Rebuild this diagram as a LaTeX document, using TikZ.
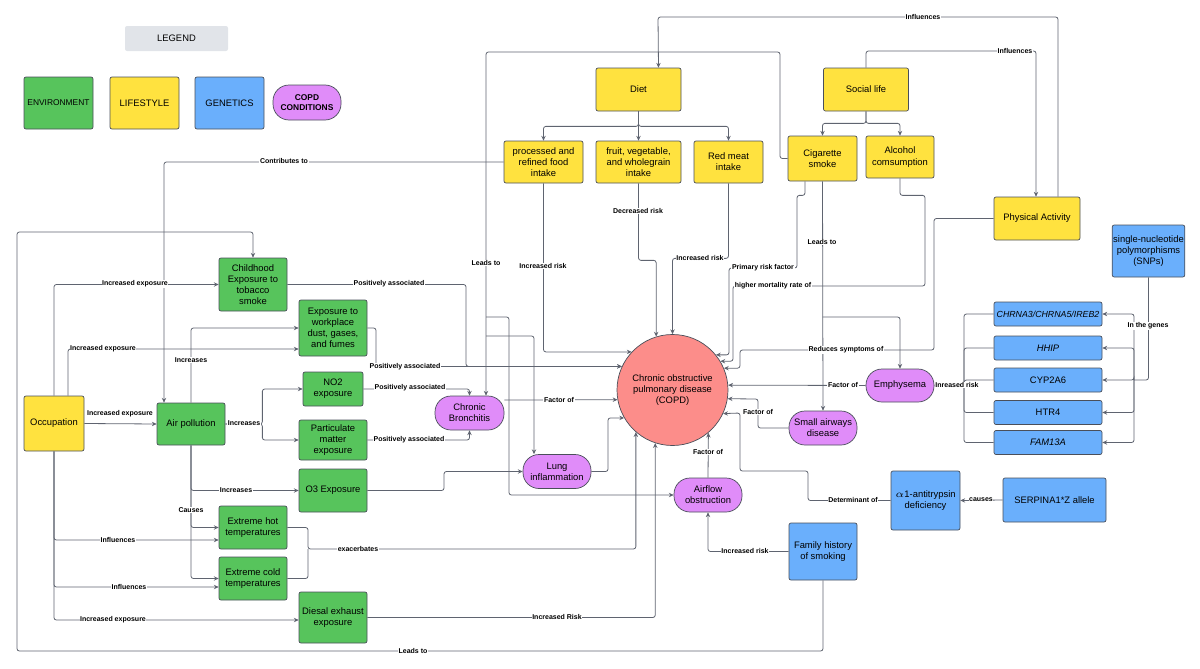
\documentclass[tikz,border=0pt]{standalone}
\usepackage{fontspec}
\setmainfont{Liberation Sans}
\usepackage{xcolor}
\usepackage{tikz}
\usetikzlibrary{positioning,calc,arrows.meta}
\definecolor{envgreen}{HTML}{57C45C}
\definecolor{lifeyellow}{HTML}{FFE23F}
\definecolor{geneblue}{HTML}{6AAFFC}
\definecolor{condpurple}{HTML}{E08CF9}
\definecolor{copdred}{HTML}{FC8D8A}
\definecolor{legendgray}{HTML}{E1E4E9}
\definecolor{linegray}{HTML}{5F6470}
\definecolor{bordergray}{HTML}{4A4F5A}
\tikzset{
  figfont/.style={font=\fontsize{4.7}{5.6}\selectfont},
  figbox/.style={draw=bordergray, line width=0.35pt, rounded corners=1pt, align=center, inner sep=0.5pt},
  envbox/.style={figbox, fill=envgreen},
  lifebox/.style={figbox, fill=lifeyellow},
  genebox/.style={figbox, fill=geneblue},
  condbox/.style={figbox, fill=condpurple, rounded corners=8pt},
  link/.style={-{Stealth[length=2.4pt,width=2.2pt]}, draw=linegray, line width=0.4pt, rounded corners=1.2pt},
  linkplain/.style={draw=linegray, line width=0.4pt, rounded corners=1.2pt},
  lbl/.style={font=\fontsize{3.5}{4}\selectfont\bfseries, fill=white, inner sep=0.3pt},
}
\begin{document}
\begin{tikzpicture}[x=0.5pt, y=-0.5pt, figfont]
\useasboundingbox (0,0) rectangle (1200,669);

% Legend
\node[fill=legendgray, rounded corners=1pt, minimum width=51.5pt, minimum height=12.5pt] (legend) at (176.5,38.5) {LEGEND};
\node[envbox, minimum width=34.5pt, minimum height=26pt, font=\fontsize{4.2}{5}\selectfont] (lenv) at (58.5,103) {ENVIRONMENT};
\node[lifebox, minimum width=34.5pt, minimum height=26pt] (llife) at (144.5,103) {LIFESTYLE};
\node[genebox, minimum width=34.5pt, minimum height=26pt] (lgene) at (229.5,103) {GENETICS};
\node[condbox, minimum width=34pt, minimum height=17.5pt, font=\fontsize{4.2}{5}\selectfont\bfseries] (lcond) at (307,102.5) {COPD\\CONDITIONS};

% Lifestyle
\node[lifebox, minimum width=42.5pt, minimum height=21.5pt] (diet) at (638.5,89.5) {Diet};
\node[lifebox, minimum width=42.5pt, minimum height=21.5pt] (social) at (866,89.5) {Social life};
\node[lifebox, minimum width=39.5pt, minimum height=21pt] (proc) at (543.5,162) {processed and\\refined food\\intake};
\node[lifebox, minimum width=42.5pt, minimum height=21pt] (fruit) at (638.5,162) {fruit, vegetable,\\and wholegrain\\intake};
\node[lifebox, minimum width=34.5pt, minimum height=21pt] (redmeat) at (728.5,162) {Red meat\\intake};
\node[lifebox, minimum width=34.5pt, minimum height=22.5pt] (cig) at (822.5,158.5) {Cigarette\\smoke};
\node[lifebox, minimum width=34pt, minimum height=21pt] (alcohol) at (900,157) {Alcohol\\comsumption};
\node[lifebox, minimum width=43pt, minimum height=21.5pt] (physact) at (1037,218.5) {Physical Activity};
\node[lifebox, minimum width=30pt, minimum height=27.5pt] (occ) at (54,423.5) {Occupation};

% Genetics
\node[genebox, minimum width=34.5pt, minimum height=26pt] (snp) at (1148.5,251) {single-nucleotide\\polymorphisms\\(SNPs)};
\node[genebox, minimum width=54pt, minimum height=12pt, font=\fontsize{4.4}{5}\selectfont] (chrna) at (1048,314) {\itshape CHRNA3/CHRNA5/IREB2};
\node[genebox, minimum width=54pt, minimum height=12pt] (hhip) at (1048,348) {\itshape HHIP};
\node[genebox, minimum width=54pt, minimum height=12pt] (cyp) at (1048,380) {CYP2A6};
\node[genebox, minimum width=54pt, minimum height=12pt] (htr) at (1048,412.5) {HTR4};
\node[genebox, minimum width=54pt, minimum height=12pt] (fam) at (1048,442.5) {\itshape FAM13A};
\node[genebox, minimum width=34.5pt, minimum height=29.5pt] (alpha) at (925.5,500.5) {$\alpha$1-antitrypsin\\deficiency};
\node[genebox, minimum width=51.5pt, minimum height=22pt] (serp) at (1054.5,500) {SERPINA1*Z allele};
\node[genebox, minimum width=34pt, minimum height=28.5pt] (fh) at (823,551.5) {Family history\\of smoking};

% COPD and conditions
\node[circle, draw=bordergray, line width=0.35pt, fill=copdred, minimum size=55.5pt, align=center, inner sep=0pt] (copd) at (672.5,390) {Chronic obstructive\\pulmonary disease\\(COPD)};
\node[condbox, minimum width=34pt, minimum height=16.5pt] (emph) at (900,385.5) {Emphysema};
\node[condbox, minimum width=34pt, minimum height=17pt] (small) at (823,428) {Small airways\\disease};
\node[condbox, minimum width=34.5pt, minimum height=17pt] (cb) at (469.5,413) {Chronic\\Bronchitis};
\node[condbox, minimum width=34pt, minimum height=17pt] (li) at (557,471.5) {Lung\\inflammation};
\node[condbox, minimum width=34pt, minimum height=17pt] (ao) at (708,495) {Airflow\\obstruction};

% Environment
\node[envbox, minimum width=34pt, minimum height=26.5pt] (childhood) at (253,284.5) {Childhood\\Exposure to\\tobacco\\smoke};
\node[envbox, minimum width=34pt, minimum height=28pt] (work) at (333,328) {Exposure to\\workplace\\dust, gases,\\and fumes};
\node[envbox, minimum width=30pt, minimum height=17pt] (no2) at (333,389) {NO2\\exposure};
\node[envbox, minimum width=34pt, minimum height=20pt] (partic) at (333,440) {Particulate\\matter\\exposure};
\node[envbox, minimum width=34pt, minimum height=21.5pt] (o3) at (333,490.5) {O3 Exposure};
\node[envbox, minimum width=34pt, minimum height=21pt] (airpol) at (191,424) {Air pollution};
\node[envbox, minimum width=34pt, minimum height=21.5pt] (hot) at (253,527.5) {Extreme hot\\temperatures};
\node[envbox, minimum width=34pt, minimum height=21.5pt] (cold) at (253,578.5) {Extreme cold\\temperatures};
\node[envbox, minimum width=34pt, minimum height=25.5pt] (diesel) at (333,617.5) {Diesal exhaust\\exposure};

% Bus points
\coordinate (cigbusA) at (486,317);
\coordinate (cigbusB) at (486,336);
\coordinate (cigbusE) at (822.5,317);
\coordinate (genebus) at (964,385);
\coordinate (snpbus) at (1134,380);

% Diet and social life branches
\draw[link] (diet.south) -- ++(0,15) -| (proc.north);
\draw[link] (diet.south) -- (fruit.north);
\draw[link] (diet.south) -- ++(0,15) -| (redmeat.north);
\draw[link] (social.south) -- ++(0,12) -| (cig.north);
\draw[link] (social.south) -- ++(0,12) -| (alcohol.north);

% Influences across the top
\draw[link] ([xshift=10.5pt]physact.north) |- (658,17) -- ([xshift=10pt]diet.north);
\draw[link] (social.north) |- (1036,51) -- ([xshift=-0.5pt]physact.north);
\node[lbl] (l-inf1) at (923,17) {Influences};
\node[lbl] (l-inf2) at (1015,51) {Influences};

% Cigarette smoke
\draw[link] (cig.west) -| (780,52) -| ([xshift=8.25pt]cb.north);
\draw[link] (cigbusA) -- ++(23,0) |- (ao.west);
\draw[link] (cigbusB) -| ([xshift=-11.5pt]li.north);
\node[lbl] (l-lead1) at (486,263) {Leads to};
\draw[link] (cig.south) -- (small.north);
\draw[link] (cigbusE) -| (emph.north);
\node[lbl] (l-lead2) at (822,242) {Leads to};
\draw[link] ([xshift=-8.75pt]cig.south) -- ++(0,14) -| (797,268) -- (729,268) |- (copd.39);
\node[lbl] (l-prim) at (763,268) {Primary risk factor};
\draw[link] (alcohol.south) -- ++(0,17) -| (925,286) -- (733,286) |- (copd.31);
\node[lbl] (l-mort) at (773,286) {higher mortality rate of};
\draw[link] (physact.west) -| (934,350) -- (740,350) |- (copd.23);
\node[lbl] (l-red) at (846,350) {Reduces symptoms of};

% Diet to COPD
\draw[link] (proc.west) -| ([xshift=-13.5pt]airpol.north);
\node[lbl] (l-contr) at (284,161) {Contributes to};
\draw[link] (proc.south) |- (copd.137);
\node[lbl] (l-proc) at (543,266) {Increased risk};
\draw[link] (fruit.south) -- ++(0,77) -| (copd.107);
\node[lbl] (l-fruit) at (638,211) {Decreased risk};
\draw[link] (redmeat.south) -- ++(0,75) -| (copd.90);
\node[lbl] (l-meat) at (700,258) {Increased risk};

% Environment to COPD
\draw[link] (childhood.east) -- (466,284.5) |- (copd.155);
\node[lbl] (l-pos1) at (389,284) {Positively associated};
\draw[link] (work.east) -- (376,328) |- (copd.155);
\node[lbl] (l-pos2) at (405,367) {Positively associated};
\draw[link] (no2.east) -| (cb.north);
\node[lbl] (l-pos3) at (410,388) {Positively associated};
\draw[link] (partic.east) -| (cb.south);
\node[lbl] (l-pos4) at (409,440) {Positively associated};
\draw[link] ([yshift=6.5pt]cb.east) -- (copd.190);
\node[lbl] (l-cb) at (559,400) {Factor of};
\draw[link] (o3.east) -- (444,490.5) |- (li.west);
\draw[link] (li.east) -- (608,471.5) |- (copd.210);
\draw[link] (hot.east) -| (308,549) -| (copd.229);
\draw[linkplain] (cold.east) -| (308,549);
\node[lbl] (l-exac) at (358,549) {exacerbates};
\draw[link] (diesel.east) -| (copd.252);
\node[lbl] (l-dies) at (557,617) {Increased Risk};

% Occupation
\draw[link] (occ.north) |- (childhood.west);
\node[lbl] (l-occ1) at (135,284) {Increased exposure};
\draw[link] ([xshift=7pt]occ.north) |- ([yshift=-10.5pt]work.west);
\node[lbl] (l-occ2) at (103,349) {Increased exposure};
\draw[link] (occ.east) -- (airpol.west);
\node[lbl] (l-occ3) at (120,414) {Increased exposure};
\draw[link] (occ.south) |- ([yshift=-6.25pt]hot.west);
\node[lbl] (l-occ4) at (118,540) {Influences};
\draw[link] (occ.south) |- ([yshift=-4.25pt]cold.west);
\node[lbl] (l-occ5) at (129,587) {Influences};
\draw[link] (occ.south) |- ([yshift=-1.25pt]diesel.west);
\node[lbl] (l-occ6) at (113,620) {Increased exposure};

% Air pollution
\draw[link] (airpol.north) |- (work.west);
\node[lbl] (l-ap1) at (191,360) {Increases};
\draw[link] (airpol.east) -- ++(37,0) |- (no2.west);
\draw[link] (airpol.east) -- ++(37,0) |- (partic.west);
\node[lbl] (l-ap2) at (244,423) {Increases};
\draw[link] (airpol.south) |- (o3.west);
\node[lbl] (l-ap3) at (236,490) {Increases};
\draw[link] (airpol.south) |- (hot.west);
\draw[link] (airpol.south) |- (cold.west);
\node[lbl] (l-ap4) at (191,510) {Causes};

% Family history
\draw[link] (fh.south) |- (17,651) |- (253,232) -- (childhood.north);
\node[lbl] (l-fh1) at (413,651) {Leads to};
\draw[link] (fh.west) -| (ao.south);
\node[lbl] (l-fh2) at (745,551) {Increased risk};

% Conditions to COPD
\draw[link] (ao.north) -- (copd.310);
\node[lbl] (l-ao) at (708,452) {Factor of};
\draw[link] (small.west) -| (758,399) -- (copd.351);
\node[lbl] (l-sa) at (758,412) {Factor of};
\draw[link] (emph.west) -- (copd.5);
\node[lbl] (l-em) at (843,385) {Factor of};

% Genetics
\draw[link] (alpha.west) -| (808,471) -| (740,413) -- (copd.335);
\node[lbl] (l-alpha) at (853,500) {Determinant of};
\draw[link] (serp.west) -- (alpha.east);
\node[lbl] (l-serp) at (981,500) {causes};
\foreach \g in {chrna,hhip,cyp,htr,fam}
  \draw[linkplain] (\g.west) -| (genebus);
\draw[link] (genebus) -- (emph.east);
\node[lbl] (l-gene) at (957,385) {Inreased risk};
\draw[linkplain] (snp.south) |- (snpbus);
\foreach \g in {chrna,hhip,cyp,htr,fam}
  \draw[link] (snpbus) |- (\g.east);
\node[lbl] (l-snp) at (1148,326) {In the genes};
\end{tikzpicture}
\end{document}
